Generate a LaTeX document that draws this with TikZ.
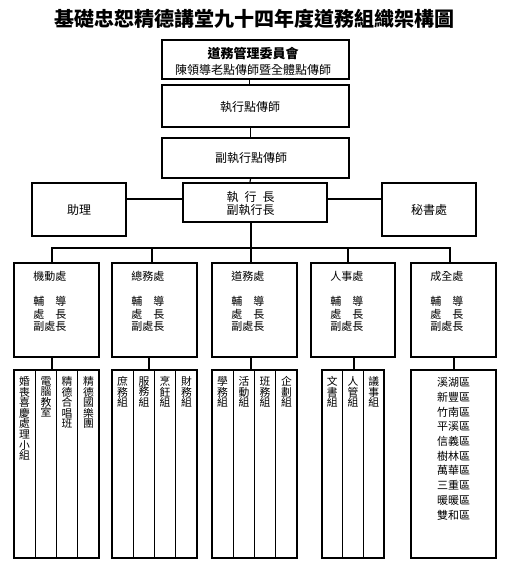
\documentclass[tikz,border=0pt]{standalone}
\usepackage{fontspec}
\newfontfamily\cjk{Noto Sans CJK TC}
\newcommand\mysect[1]{#1\\[12.5pt]\makebox[33pt]{輔\hfill{}導}\\\makebox[33pt]{處\hfill{}長}\\副處長}
\begin{document}
\begin{tikzpicture}[x=1pt,y=-1pt,
  box/.style={draw, line width=1.6pt, inner sep=0pt, align=center, font=\cjk\fontsize{12}{14}\selectfont},
  conn/.style={line width=1.2pt},
  col/.style={draw, line width=1.4pt, inner sep=0pt, minimum height=188pt},
  vtext/.style={font=\cjk\fontsize{10.8}{10.6}\selectfont, align=center, inner sep=0pt, anchor=north},
  stext/.style={font=\cjk\fontsize{11}{12.5}\selectfont, align=left, inner sep=0pt, anchor=north west}]
\useasboundingbox[fill=white] (0,0) rectangle (515,570);

\node[font=\cjk\bfseries\fontsize{20}{24}\selectfont, inner sep=0pt] (title) at (254,19) {基礎忠恕精德講堂九十四年度道務組織架構圖};

% spine
\node[box, minimum width=187pt, minimum height=39pt] (top) at (255.5,59.5) {};
\node[font=\cjk\fontsize{12}{16}\selectfont, align=center, inner sep=0pt] (toptext) at (253,61) {{\bfseries\fontsize{13}{16}\selectfont 道務管理委員會}\\陳領導老點傳師暨全體點傳師};
\node[box, minimum width=187pt, minimum height=42pt] (exec) at (255.5,106) {};
\node[font=\cjk\fontsize{12}{14}\selectfont, inner sep=0pt] (exectext) at (250,107) {執行點傳師};
\node[box, minimum width=187pt, minimum height=40pt] (vexec) at (255.5,158) {};
\node[font=\cjk\fontsize{12}{14}\selectfont, inner sep=0pt] (vexectext) at (251,158) {副執行點傳師};
\node[box, minimum width=144pt, minimum height=39pt] (ceo) at (255,202.5) {};
\node[font=\cjk\fontsize{12}{13.5}\selectfont, align=center, inner sep=0pt] (ceotext) at (250.5,203.5) {\makebox[48pt]{執\hfill{}行\hfill{}長}\\副執行長};
\node[box, minimum width=94pt, minimum height=53pt] (zhuli) at (79,209.5) {助理};
\node[box, minimum width=94pt, minimum height=53pt] (mishu) at (429,209.5) {秘書處};

\draw[conn] ([xshift=-6pt]top.south) -- ([xshift=-6pt]exec.north);
\draw[conn] ([xshift=-5pt]exec.south) -- ([xshift=-5pt]vexec.north);
\draw[conn] ([xshift=-5pt]vexec.south) -- ([xshift=-5pt]ceo.north);
\draw[conn] ([yshift=3.5pt]ceo.west) -- ([yshift=3.5pt]ceo.west -| zhuli.east);
\draw[conn] ([yshift=3.5pt]ceo.east) -- ([yshift=3.5pt]ceo.east -| mishu.west);

% sections
\coordinate (bus) at (255,248);
\node[box, minimum width=85pt, minimum height=94pt] (s1) at (56.5,310) {};
\node[box, minimum width=85pt, minimum height=94pt] (s2) at (154.5,310) {};
\node[box, minimum width=85pt, minimum height=94pt] (s3) at (254.5,310) {};
\node[box, minimum width=84pt, minimum height=94pt] (s4) at (353,310) {};
\node[box, minimum width=85pt, minimum height=94pt] (s5) at (453.5,310) {};
\node[stext] (s1t) at ([xshift=20pt,yshift=-9pt]s1.north west) {\mysect{機動處}};
\node[stext] (s2t) at ([xshift=20pt,yshift=-9pt]s2.north west) {\mysect{總務處}};
\node[stext] (s3t) at ([xshift=20pt,yshift=-9pt]s3.north west) {\mysect{道務處}};
\node[stext] (s4t) at ([xshift=20pt,yshift=-9pt]s4.north west) {\mysect{人事處}};
\node[stext] (s5t) at ([xshift=20pt,yshift=-9pt]s5.north west) {\mysect{成全處}};

\draw[conn] ([xshift=-4pt]ceo.south) -- ([xshift=-4pt]ceo.south |- bus);
\draw[conn] ([xshift=-4.5pt]s1.north) -- ([xshift=-4.5pt]s1.north |- bus) -- ([xshift=-3.5pt]s5.north |- bus) -- ([xshift=-3.5pt]s5.north);
\draw[conn] ([xshift=-2.5pt]s2.north) -- ([xshift=-2.5pt]s2.north |- bus);
\draw[conn] ([xshift=-3.5pt]s3.north) -- ([xshift=-3.5pt]s3.north |- bus);
\draw[conn] ([xshift=-5pt]s4.north) -- ([xshift=-5pt]s4.north |- bus);

% columns
\node[col, minimum width=21.25pt] (c11) at (24.6,464) {};
\node[col, minimum width=21.25pt] (c12) at (45.9,464) {};
\node[col, minimum width=21.25pt] (c13) at (67.1,464) {};
\node[col, minimum width=21.25pt] (c14) at (88.4,464) {};
\node[vtext] (c11t) at ([yshift=-7pt]c11.north) {婚\\喪\\喜\\慶\\處\\理\\小\\組};
\node[vtext] (c12t) at ([yshift=-7pt]c12.north) {電\\腦\\教\\室};
\node[vtext] (c13t) at ([yshift=-7pt]c13.north) {精\\德\\合\\唱\\班};
\node[vtext] (c14t) at ([yshift=-7pt]c14.north) {精\\德\\國\\樂\\團};

\node[col, minimum width=21.25pt] (c21) at (122.6,464) {};
\node[col, minimum width=21.25pt] (c22) at (143.9,464) {};
\node[col, minimum width=21.25pt] (c23) at (165.1,464) {};
\node[col, minimum width=21.25pt] (c24) at (186.4,464) {};
\node[vtext] (c21t) at ([yshift=-7pt]c21.north) {庶\\務\\組};
\node[vtext] (c22t) at ([yshift=-7pt]c22.north) {服\\務\\組};
\node[vtext] (c23t) at ([yshift=-7pt]c23.north) {烹\\飪\\組};
\node[vtext] (c24t) at ([yshift=-7pt]c24.north) {財\\務\\組};

\node[col, minimum width=21.25pt] (c31) at (222.6,464) {};
\node[col, minimum width=21.25pt] (c32) at (243.9,464) {};
\node[col, minimum width=21.25pt] (c33) at (265.1,464) {};
\node[col, minimum width=21.25pt] (c34) at (286.4,464) {};
\node[vtext] (c31t) at ([yshift=-7pt]c31.north) {學\\務\\組};
\node[vtext] (c32t) at ([yshift=-7pt]c32.north) {活\\動\\組};
\node[vtext] (c33t) at ([yshift=-7pt]c33.north) {班\\務\\組};
\node[vtext] (c34t) at ([yshift=-7pt]c34.north) {企\\劃\\組};

\node[col, minimum width=20.67pt] (c41) at (332.3,464) {};
\node[col, minimum width=20.67pt] (c42) at (353,464) {};
\node[col, minimum width=20.67pt] (c43) at (373.7,464) {};
\node[vtext] (c41t) at ([yshift=-7pt]c41.north) {文\\書\\組};
\node[vtext] (c42t) at ([yshift=-7pt]c42.north) {人\\管\\組};
\node[vtext] (c43t) at ([yshift=-7pt]c43.north) {議\\事\\組};

\node[col, minimum width=85pt] (c5) at (453.5,464) {};
\node[font=\cjk\fontsize{11}{14.7}\selectfont, align=center, inner sep=0pt, anchor=north] (c5t) at ([yshift=-8pt]c5.north) {溪湖區\\新豐區\\竹南區\\平溪區\\信義區\\樹林區\\萬華區\\三重區\\暖暖區\\雙和區};

\draw[conn] ([xshift=-4.5pt]s1.south) -- ([xshift=-4.5pt]s1.south |- c12.north);
\draw[conn] ([xshift=-5.5pt]s2.south) -- ([xshift=-5.5pt]s2.south |- c22.north);
\draw[conn] ([xshift=-3.5pt]s3.south) -- ([xshift=-3.5pt]s3.south |- c32.north);
\draw[conn] ([xshift=1pt]s4.south) -- ([xshift=1pt]s4.south |- c42.north);
\draw[conn] ([xshift=0.5pt]s5.south) -- ([xshift=0.5pt]s5.south |- c5.north);
\end{tikzpicture}
\end{document}
